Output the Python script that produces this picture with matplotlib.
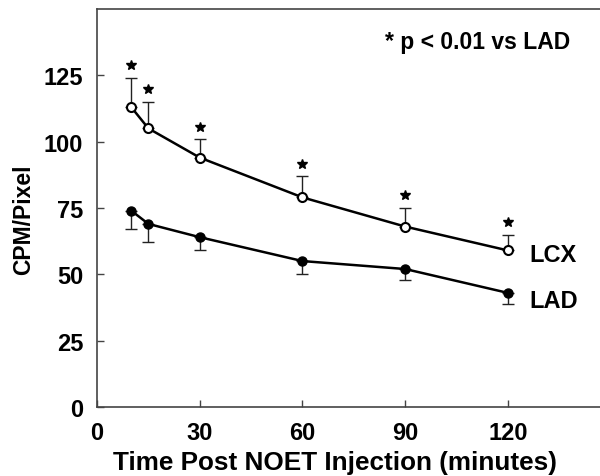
from matplotlib import pyplot as plt
from matplotlib import transforms
import numpy as np

plt.rcParams.update({'font.family': ['Liberation Sans', 'DejaVu Sans'],
'font.weight': 'bold',
'xtick.labelsize': 17,
'ytick.labelsize': 17})

# Time points (minutes)
time = np.array([10, 15, 30, 60, 90, 120])

# LCX (open circles), mean and upper error
lcx_mean = np.array([113, 105, 94, 79, 68, 59])
lcx_upper = np.array([124, 115, 101, 87, 75, 65])

# LAD (filled circles), mean and lower error
lad_mean = np.array([74, 69, 64, 55, 52, 43])
lad_lower = np.array([67, 62, 59, 50, 48, 39])

x_ticks = [0, 30, 60, 90, 120]
y_ticks = [0, 25, 50, 75, 100, 125]

# ----------------------------------------------------------------------------------------------------
def plot_uptake():

    fig = plt.figure(figsize = (6.0, 4.77), dpi = 100)
    ax = fig.add_axes([0.1617, 0.1447, 0.8383, 0.8343])

    # error bars: one sided
    ax.errorbar(time, lcx_mean, yerr = [np.zeros_like(lcx_mean), lcx_upper - lcx_mean], fmt = 'none',
                ecolor = '#222222', elinewidth = 1.0, capsize = 4, capthick = 1.0, zorder = 1)
    ax.errorbar(time, lad_mean, yerr = [lad_mean - lad_lower, np.zeros_like(lad_mean)], fmt = 'none',
                ecolor = '#222222', elinewidth = 1.0, capsize = 4, capthick = 1.0, zorder = 1)

    ax.plot(time, lcx_mean, color = 'black', lw = 1.8, marker = 'o', ms = 6.5, mfc = 'white',
            mec = 'black', mew = 1.5, zorder = 3)
    ax.plot(time, lad_mean, color = 'black', lw = 1.8, marker = 'o', ms = 6.5, mfc = 'black',
            mec = 'black', zorder = 3)

    # significance stars above the LCX error bars
    star_trans = transforms.offset_copy(ax.transData, fig = fig, y = 9, units = 'points')
    ax.plot(time, lcx_upper, ls = 'none', marker = '*', ms = 7, color = 'black', transform = star_trans)

    ax.text(126.4, 57.6, 'LCX', fontsize = 17, fontweight = 'bold', va = 'center', ha = 'left')
    ax.text(126.4, 40.3, 'LAD', fontsize = 17, fontweight = 'bold', va = 'center', ha = 'left')
    ax.text(84.1, 137.8, '* p < 0.01 vs LAD', fontsize = 16.5, fontweight = 'bold', va = 'center', ha = 'left')

    ax.set_xlim(0, 146.9)
    ax.set_ylim(0, 150)
    ax.set_xticks(x_ticks)
    ax.set_yticks(y_ticks)
    ax.tick_params(direction = 'in', length = 5, width = 1.0, color = '#444444', pad = 10)

    for side in ['left', 'bottom', 'top']:
        ax.spines[side].set_color('#444444')
        ax.spines[side].set_linewidth(1.2)
    ax.spines['right'].set_visible(False)

    ax.set_xlabel('Time Post NOET Injection (minutes)', fontsize = 18.8, fontweight = 'bold')
    ax.xaxis.set_label_coords(0.473, -0.107)
    ax.set_ylabel('CPM/Pixel', fontsize = 16.5, fontweight = 'bold')
    ax.yaxis.set_label_coords(-0.124, 0.473)

    fig.savefig('out.png', dpi = 100)

# ----------------------------------------------------------------------------------------------------
if __name__ == '__main__':

    plot_uptake()
